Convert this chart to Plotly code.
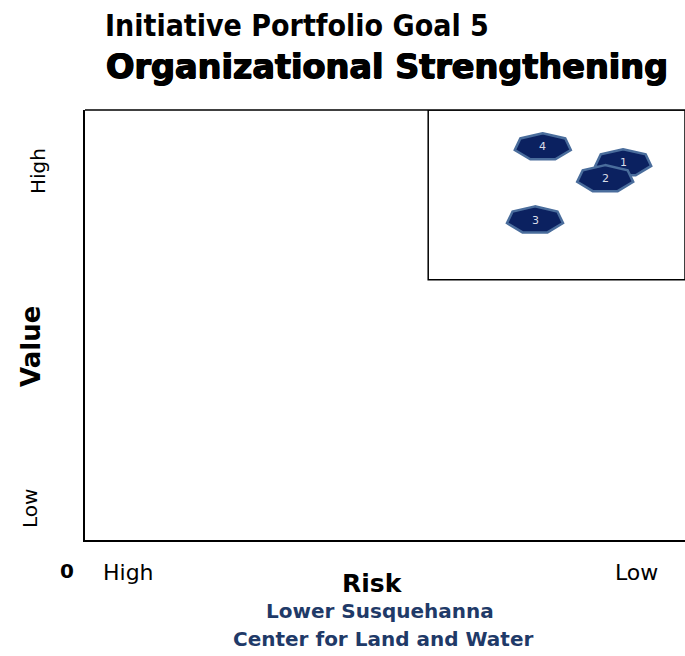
import math
import plotly.graph_objects as go

# ---- data ----
initiatives = ["1", "2", "3", "4"]
risk_pos = [8.97, 8.67, 7.50, 7.63]     # x: 0 = High risk (left) ... 10 = Low risk (right)
value_pos = [8.77, 8.40, 7.44, 9.14]    # y: 0 = Low value ... 10 = High value
quad_x = [5.72, 10.0]
quad_y = [6.05, 10.0]
x_tick_labels = ["High", "Low"]
y_tick_labels = ["Low", "High"]

FONT = "DejaVu Sans"
NAVY = "#0b2160"
EDGE = "#4a6d9c"

fig = go.Figure()

# heptagon markers, drawn as pixel-sized paths anchored at each data point
W, H = 28, 13
pts = []
for k in range(7):
    a = math.pi / 2 + 2 * math.pi * k / 7
    pts.append((W * math.cos(a) / 0.975, H * math.sin(a) / 0.95))
path = "M " + " L ".join(f"{px:.2f},{py:.2f}" for px, py in pts) + " Z"

order = [0, 1, 3, 2]  # draw 1 before 2 so 2 overlaps 1
shapes = [
    dict(type="rect", xref="x", yref="y", x0=quad_x[0], x1=quad_x[1],
         y0=quad_y[0], y1=quad_y[1], line=dict(color="black", width=1.5),
         fillcolor="rgba(0,0,0,0)", layer="below"),
    dict(type="line", xref="paper", yref="paper", x0=0, x1=1, y0=1, y1=1,
         line=dict(color="black", width=1.5)),
]
for i in order:
    shapes.append(dict(type="path", xref="x", yref="y", xsizemode="pixel",
                       ysizemode="pixel", xanchor=risk_pos[i], yanchor=value_pos[i],
                       path=path, fillcolor=NAVY, line=dict(color=EDGE, width=2.5),
                       layer="above"))

fig.add_trace(go.Scatter(x=risk_pos, y=value_pos, mode="markers",
                         marker=dict(size=1, opacity=0), hoverinfo="skip",
                         showlegend=False))

ann = []
for i in order:
    ann.append(dict(text=initiatives[i], x=risk_pos[i], y=value_pos[i], xref="x",
                    yref="y", showarrow=False, xanchor="center", yanchor="middle",
                    font=dict(family=FONT, size=11, color="#d8dde8")))

def add(text, x, y, size, color="black", bold=False, angle=0, xanchor="center",
        family=FONT, shadow=None):
    f = dict(family=family, size=size, color=color,
             weight="bold" if bold else "normal")
    if shadow:
        f["shadow"] = shadow
    ann.append(dict(text=text, x=x, y=y, xref="paper", yref="paper", showarrow=False,
                    xanchor=xanchor, yanchor="middle", textangle=angle, font=f))

def px_x(p):
    return (p - 85) / 600.0

def px_y(p):
    return (540 - p) / 430.0

heavy = "0.7px 0 0 black, -0.7px 0 0 black, 0 0.5px 0 black"
add("Initiative Portfolio Goal 5", px_x(103), px_y(25), 30, bold=True,
    xanchor="left", family="DejaVu Sans Condensed")
add("Organizational Strengthening", px_x(104), px_y(67), 33.5, bold=True,
    xanchor="left", shadow=heavy)
add("0", px_x(67), px_y(571), 20, bold=True)
add(x_tick_labels[0], px_x(128), px_y(572), 22)
add(x_tick_labels[1], px_x(636), px_y(572), 22)
add("Risk", px_x(372), px_y(583), 25, bold=True)
add("Lower Susquehanna", px_x(380), px_y(611), 20, color="#1f3a68", bold=True)
add("Center for Land and Water", px_x(383), px_y(639), 20, color="#1f3a68", bold=True)
add(y_tick_labels[1], px_x(38), px_y(171), 20, angle=-90)
add(y_tick_labels[0], px_x(30), px_y(509), 20, angle=-90)
add("Value", px_x(31), px_y(347), 26, bold=True, angle=-90)

fig.update_layout(
    width=685, height=656,
    margin=dict(l=85, r=0, t=110, b=116),
    paper_bgcolor="white", plot_bgcolor="white",
    xaxis=dict(range=[0, 10], showgrid=False, zeroline=False, showticklabels=False,
               ticks="", showline=True, linecolor="black", linewidth=1.5, fixedrange=True),
    yaxis=dict(range=[0, 10], showgrid=False, zeroline=False, showticklabels=False,
               ticks="", showline=True, linecolor="black", linewidth=1.5, fixedrange=True),
    shapes=shapes,
    annotations=ann,
    showlegend=False,
)

fig.write_html("out.html", config={"displayModeBar": False})
